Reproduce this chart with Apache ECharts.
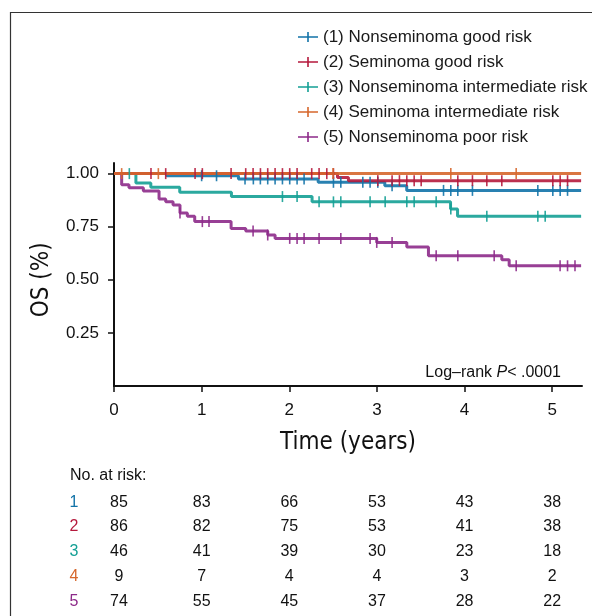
<!DOCTYPE html>
<html>
<head>
<meta charset="utf-8">
<script src="https://cdn.jsdelivr.net/npm/echarts@6/dist/echarts.min.js"></script>
<style>
html,body{margin:0;padding:0;background:#fff;}
#chart{width:592px;height:616px;}
</style>
</head>
<body>
<div id="chart"></div>
<script>
// ---------- data ----------
const groupNames = [
  '(1) Nonseminoma good risk',
  '(2) Seminoma good risk',
  '(3) Nonseminoma intermediate risk',
  '(4) Seminoma intermediate risk',
  '(5) Nonseminoma poor risk'
];
const groupColors = ['#1273a8', '#b5193c', '#14a095', '#d6672c', '#8d2a89'];
const xTicks = [0, 1, 2, 3, 4, 5];
const yTicks = [0.25, 0.5, 0.75, 1.0];

// Kaplan-Meier steps: [time (years), survival after event]
const km1 = [[0,1],[0.6,0.99],[1.42,0.975],[2.33,0.959],[3.09,0.943],[3.34,0.921],[5.33,0.921]];
const km2 = [[0,1],[2.55,0.982],[2.675,0.967],[5.33,0.967]];
const km3 = [[0,1],[0.25,0.956],[0.42,0.936],[0.75,0.912],[1.34,0.892],[2.26,0.867],[3.84,0.833],[3.92,0.799],[5.33,0.799]];
const km4 = [[0,1],[5.33,1]];
const km5 = [[0,1],[0.0875,0.948],[0.171,0.934],[0.335,0.918],[0.514,0.881],[0.59,0.867],[0.674,0.852],[0.753,0.815],[0.837,0.799],[0.921,0.774],[1.336,0.742],[1.503,0.73],[1.754,0.711],[1.838,0.695],[2.998,0.676],[3.341,0.654],[3.588,0.613],[4.425,0.594],[4.509,0.566],[5.33,0.566]];

// censoring times (years)
const cens1 = [1.0,1.17,1.495,1.59,1.67,1.754,1.838,1.922,2.005,2.089,2.169,2.504,2.588,2.839,2.922,3.01,3.173,3.76,3.843,3.923,4.09,4.836,5.007,5.091,5.175];
const cens2 = [0.422,0.59,0.925,1.008,1.336,1.503,1.587,1.671,1.754,1.838,1.922,2.005,2.089,2.256,2.34,2.428,2.504,3.01,3.173,3.257,3.341,3.425,3.505,3.923,4.09,4.254,4.425,5.007,5.091,5.175];
const cens3 = [0.175,1.922,2.089,2.34,2.504,2.588,2.922,3.094,3.341,3.425,3.676,3.843,4.254,4.836,4.92];
const cens4 = [0.0875,0.506,2.5,3.843,4.589];
const cens5 = [0.753,1.008,1.084,1.587,1.754,2.005,2.089,2.169,2.34,2.588,2.922,2.998,3.173,3.676,3.923,4.338,4.589,5.09,5.175,5.26];

// number at risk at years 0..5
const riskTimes = [0, 1, 2, 3, 4, 5];
const risk1 = [85, 83, 66, 53, 43, 38];
const risk2 = [86, 82, 75, 53, 41, 38];
const risk3 = [46, 41, 39, 30, 23, 18];
const risk4 = [9, 7, 4, 4, 3, 2];
const risk5 = [74, 55, 45, 37, 28, 22];
const riskLabels = ['1', '2', '3', '4', '5'];

// ---------- build ----------
const kms = [km1, km2, km3, km4, km5];
const cens = [cens1, cens2, cens3, cens4, cens5];
const risks = [risk1, risk2, risk3, risk4, risk5];

function survAt(km, t) {
  let s = km[0][1];
  for (const p of km) { if (p[0] <= t + 1e-9) s = p[1]; }
  return s;
}

const FONT = '"Liberation Sans", Arial, sans-serif';
const NARROW = '"Liberation Sans Narrow", "DejaVu Sans Condensed", sans-serif';

const drawOrder = [2, 4, 0, 1, 3];
const series = [];
drawOrder.forEach(i => {
  series.push({
    name: groupNames[i],
    type: 'line',
    step: 'end',
    data: kms[i],
    showSymbol: false,
    symbol: 'none',
    lineStyle: { color: groupColors[i], width: 3, opacity: 0.9 },
    itemStyle: { color: groupColors[i] },
    z: 2 + drawOrder.indexOf(i) * 0.1,
    silent: true,
    animation: false
  });
});
drawOrder.forEach(i => {
  series.push({
    name: 'c' + i,
    type: 'scatter',
    data: cens[i].map(t => [t, survAt(kms[i], t)]),
    symbol: 'rect',
    symbolSize: [1.6, 11],
    itemStyle: { color: groupColors[i], opacity: 0.9 },
    z: 3,
    silent: true,
    animation: false
  });
});

const legendIcon = 'path://M0,4.2L20,4.2L20,5.8L0,5.8Z M9.2,0L10.8,0L10.8,10L9.2,10Z';

const chart = echarts.init(document.getElementById('chart'), null, { renderer: 'canvas' });
chart.setOption({
  animation: false,
  backgroundColor: '#fff',
  grid: { left: 114, top: 163, right: 10, bottom: 230, containLabel: false },
  legend: {
    orient: 'vertical',
    left: 298,
    top: 28,
    padding: 0,
    itemWidth: 20,
    itemHeight: 10,
    itemGap: 7,
    textStyle: { fontFamily: FONT, fontSize: 17, color: '#1a1a1a', lineHeight: 18 },
    data: groupNames.map((n, i) => ({ name: n, icon: legendIcon, itemStyle: { color: groupColors[i] } })),
    selectedMode: false
  },
  xAxis: {
    type: 'value',
    min: 0,
    max: 5.34,
    interval: 1,
    name: 'Time (years)',
    nameLocation: 'middle',
    nameGap: 45,
    nameTextStyle: { fontFamily: NARROW, fontSize: 24, color: '#111' },
    axisLine: { show: true, lineStyle: { color: '#111', width: 2 } },
    axisTick: { show: true, length: 6, lineStyle: { color: '#111', width: 1.5 }, customValues: xTicks },
    axisLabel: { fontFamily: FONT, fontSize: 17, color: '#111', margin: 16, customValues: xTicks, formatter: v => String(v) },
    splitLine: { show: false }
  },
  yAxis: {
    type: 'value',
    min: 0,
    max: 1.05,
    interval: 0.25,
    axisLine: { show: true, lineStyle: { color: '#111', width: 2 } },
    axisTick: { show: true, length: 6, lineStyle: { color: '#111', width: 1.5 }, customValues: yTicks },
    axisLabel: { fontFamily: FONT, fontSize: 17, color: '#111', margin: 15, customValues: yTicks, formatter: v => v.toFixed(2) },
    splitLine: { show: false }
  },
  series: series
});

// risk table & annotations, positioned from the x scale
const graphics = [];
graphics.push({
  type: 'rect',
  shape: { x: 10.5, y: 12.5, width: 700, height: 700 },
  style: { fill: 'none', stroke: '#333', lineWidth: 1.2 },
  silent: true, z: 0
});
const yMid = chart.convertToPixel({ yAxisIndex: 0 }, 0.5);
graphics.push({
  type: 'text',
  x: 42, y: yMid,
  rotation: Math.PI / 2,
  style: { text: 'OS (%)', fontFamily: NARROW, fontSize: 24, fill: '#111', align: 'center', verticalAlign: 'middle' },
  silent: true
});
graphics.push({
  type: 'text',
  x: 561, y: 373,
  style: {
    text: '{n|Log–rank }{i|P}{n|< .0001}',
    align: 'right', verticalAlign: 'middle',
    rich: {
      n: { fontFamily: FONT, fontSize: 16, fill: '#111' },
      i: { fontFamily: FONT, fontSize: 16, fontStyle: 'italic', fill: '#111' }
    }
  },
  silent: true
});
graphics.push({
  type: 'text', x: 70, y: 476,
  style: { text: 'No. at risk:', fontFamily: FONT, fontSize: 16, fill: '#111', verticalAlign: 'middle' },
  silent: true
});
const rowY = [503, 527, 552, 577, 602];
risks.forEach((arr, r) => {
  graphics.push({
    type: 'text', x: 74, y: rowY[r],
    style: { text: riskLabels[r], fontFamily: FONT, fontSize: 16, fill: groupColors[r], align: 'center', verticalAlign: 'middle' },
    silent: true
  });
  arr.forEach((v, c) => {
    let px = chart.convertToPixel({ xAxisIndex: 0 }, riskTimes[c]);
    if (c === 0) px += 5;
    graphics.push({
      type: 'text', x: px, y: rowY[r],
      style: { text: String(v), fontFamily: FONT, fontSize: 16, fill: '#111', align: 'center', verticalAlign: 'middle' },
      silent: true
    });
  });
});
chart.setOption({ graphic: graphics });
</script>
</body>
</html>
